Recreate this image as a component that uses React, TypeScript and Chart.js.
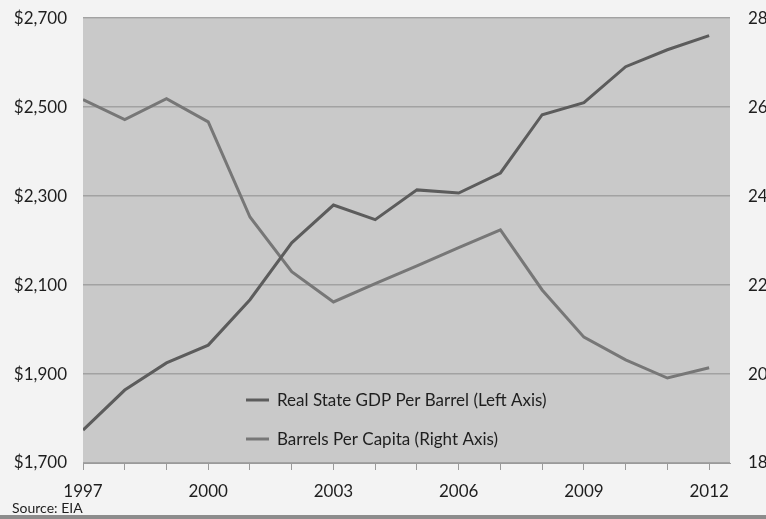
import React, { useEffect, useRef } from "react";
import { Chart, registerables } from "chart.js";

Chart.register(...registerables);

const years = [1997, 1998, 1999, 2000, 2001, 2002, 2003, 2004, 2005, 2006, 2007, 2008, 2009, 2010, 2011, 2012];
const gdpPerBarrel = [1774, 1864, 1925, 1965, 2067, 2195, 2280, 2247, 2314, 2307, 2352, 2483, 2510, 2591, 2629, 2661];
const barrelsPerCapita = [26.17, 25.72, 26.19, 25.67, 23.53, 22.3, 21.62, 22.03, 22.43, 22.84, 23.24, 21.89, 20.83, 20.32, 19.91, 20.14];
const seriesLabels = ["Real State GDP Per Barrel (Left Axis)", "Barrels Per Capita (Right Axis)"];
const seriesColors = ["#5c5c5c", "#777777"];
const sourceText = "Source: EIA";
const FONT = "Lato, 'Open Sans', 'DejaVu Sans', sans-serif";
const SHIFT = 10;

const bgPlugin = {
  id: "plotBg",
  beforeDraw(chart: any) {
    const { ctx, chartArea } = chart;
    ctx.save();
    ctx.fillStyle = "#c9c9c9";
    ctx.fillRect(chartArea.left, chartArea.top, chartArea.right - chartArea.left, chartArea.bottom - chartArea.top);
    ctx.restore();
  },
};

const overlayPlugin = {
  id: "overlay",
  afterDraw(chart: any) {
    const { ctx } = chart;
    ctx.save();
    const rows = [400 + SHIFT, 439 + SHIFT];
    chart.data.datasets.forEach((ds: any, i: number) => {
      const y = rows[i];
      ctx.strokeStyle = ds.borderColor;
      ctx.lineWidth = 3;
      ctx.beginPath();
      ctx.moveTo(246, y);
      ctx.lineTo(269, y);
      ctx.stroke();
      ctx.fillStyle = "#1e1e1e";
      ctx.font = `17px ${FONT}`;
      ctx.textBaseline = "middle";
      ctx.textAlign = "left";
      ctx.fillText(ds.label, 277, y + 1);
    });
    ctx.fillStyle = "#1e1e1e";
    ctx.font = `14px ${FONT}`;
    ctx.textBaseline = "middle";
    ctx.fillText(sourceText, 12, 508 + SHIFT);
    ctx.restore();
  },
};

export default function App() {
  const ref = useRef<HTMLCanvasElement>(null);
  useEffect(() => {
    document.body.style.margin = "0";
    const chart = new Chart(ref.current!, {
      type: "line",
      data: {
        datasets: [
          {
            label: seriesLabels[0],
            data: years.map((y, i) => ({ x: y, y: gdpPerBarrel[i] })),
            borderColor: seriesColors[0],
            borderWidth: 3,
            pointRadius: 0,
            yAxisID: "y",
            tension: 0,
          },
          {
            label: seriesLabels[1],
            data: years.map((y, i) => ({ x: y, y: barrelsPerCapita[i] })),
            borderColor: seriesColors[1],
            borderWidth: 3,
            pointRadius: 0,
            yAxisID: "y2",
            tension: 0,
          },
        ],
      },
      options: {
        animation: false,
        responsive: true,
        maintainAspectRatio: false,
        layout: { padding: { top: 8, left: 0, right: 0, bottom: 0 } },
        plugins: { legend: { display: false }, tooltip: { enabled: false } },
        scales: {
          x: {
            type: "linear",
            min: 1997,
            max: 2012.5,
            afterBuildTicks: (axis: any) => {
              axis.ticks = axis.ticks.filter((t: any) => Number.isInteger(t.value));
            },
            afterFit: (axis: any) => {
              axis.height = 56;
            },
            ticks: {
              stepSize: 1,
              includeBounds: false,
              autoSkip: false,
              maxRotation: 0,
              padding: 11,
              color: "#1e1e1e",
              font: { family: FONT, size: 17 },
              callback: (v: any) => ((v - years[0]) % 3 === 0 ? String(v) : ""),
            },
            grid: { drawOnChartArea: false, drawTicks: true, tickLength: 7, tickColor: "#9a9a9a" },
            border: { display: true, color: "#9a9a9a" },
          },
          y: {
            position: "left",
            min: 1700,
            max: 2700,
            afterFit: (axis: any) => {
              axis.width = 83;
            },
            ticks: {
              stepSize: 200,
              padding: 16,
              color: "#1e1e1e",
              font: { family: FONT, size: 17 },
              callback: (v: any) => "$" + Number(v).toLocaleString("en-US"),
            },
            grid: { color: "#a2a2a2", lineWidth: 1.5, drawTicks: false },
            border: { display: false },
          },
          y2: {
            position: "right",
            min: 18,
            max: 28,
            afterFit: (axis: any) => {
              axis.width = 36;
            },
            ticks: {
              stepSize: 2,
              padding: 18,
              color: "#1e1e1e",
              font: { family: FONT, size: 17 },
            },
            grid: { drawOnChartArea: false, drawTicks: false },
            border: { display: false },
          },
        },
      },
      plugins: [bgPlugin, overlayPlugin],
    });
    return () => chart.destroy();
  }, []);
  return (
    <div style={{ position: "relative", width: 766, height: 519, background: "#f3f3f3", overflow: "hidden" }}>
      <div style={{ position: "absolute", left: 0, top: -SHIFT, width: 766, height: 519 + SHIFT }}>
        <canvas ref={ref} />
      </div>
      <div style={{ position: "absolute", left: 0, right: 0, bottom: 0, height: 4, background: "#8c8c8c" }} />
    </div>
  );
}
